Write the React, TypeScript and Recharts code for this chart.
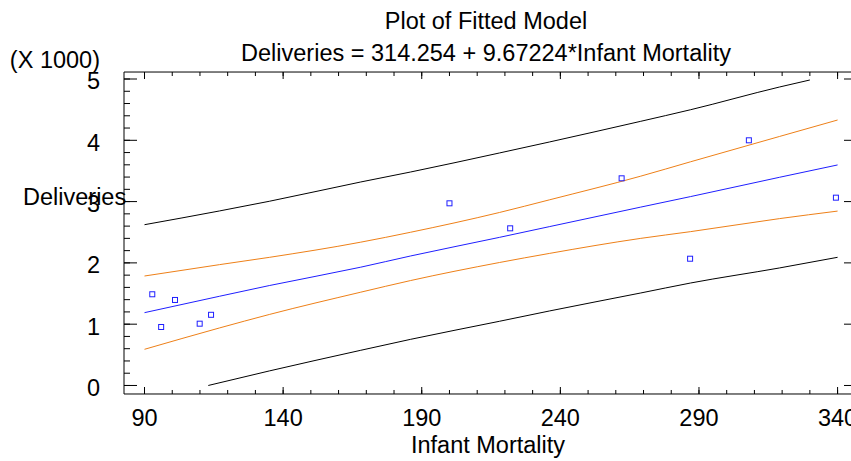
import React from 'react';
import { ComposedChart, Line, Scatter, XAxis, YAxis } from 'recharts';

// observed data (infant mortality vs deliveries)
const mortality = [92.8, 96, 101, 109.9, 114, 200, 221.9, 262.1, 286.8, 308, 339.4];
const deliveries = [1488, 954, 1395, 1008, 1153, 2972, 2564, 3380, 2068, 4000, 3064];

// fitted line and limits
const bandX = [90, 117, 135, 168, 186, 218, 236, 269, 287, 319, 340];
const fitted = [1188, 1455, 1630, 1930, 2113, 2416, 2591, 2910, 3082, 3396, 3598];
const upperConf = [1786, 1971, 2090, 2338, 2500, 2822, 3028, 3415, 3650, 4062, 4331];
const lowerConf = [590, 938, 1158, 1522, 1712, 2006, 2154, 2400, 2510, 2722, 2845];
const upperPredX = [90, 117, 135, 168, 186, 218, 236, 269, 287, 319, 330];
const upperPred = [2623, 2847, 3005, 3320, 3483, 3793, 3972, 4310, 4499, 4869, 4984];
const lowerPredX = [113, 135, 168, 186, 218, 236, 269, 287, 319, 340];
const lowerPred = [0, 237, 574, 753, 1047, 1215, 1509, 1672, 1917, 2091];

const xTicks = [90, 140, 190, 240, 290, 340];
const xMinorTicks = [90, 100, 110, 120, 130, 140, 150, 160, 170, 180, 190, 200, 210, 220, 230, 240, 250, 260, 270, 280, 290, 300, 310, 320, 330, 340];
const yTicks = [0, 1000, 2000, 3000, 4000, 5000];
const yMinorTicks = [0, 200, 400, 600, 800, 1000, 1200, 1400, 1600, 1800, 2000, 2200, 2400, 2600, 2800, 3000, 3200, 3400, 3600, 3800, 4000, 4200, 4400, 4600, 4800, 5000];

const FONT = '"Liberation Sans", Arial, sans-serif';
const ORANGE = '#ee8018';
const BLUE = '#1f1fff';
const THIN = 0.01; // near-zero axis size so the extra tick axes don't shift each other

const rows = (xs: number[], ys: number[]) => xs.map((x, i) => ({ x, y: ys[i] }));

const points = rows(mortality, deliveries);

const Square = (props: any) => {
  const { cx, cy } = props;
  return <rect x={cx - 2.5} y={cy - 2.5} width={5} height={5} fill="none" stroke={BLUE} strokeWidth={1} />;
};

const noLabel = () => <g />;

const yLabel = (p: any) => (
  <text x={p.x} y={p.y + 2} dy="0.355em" textAnchor="end" fontSize={23.5} fontFamily={FONT} fill="#000">
    {p.payload.value / 1000}
  </text>
);

const xDomain: [number, number] = [82.6, 345.2];
const yDomain: [number, number] = [-139, 5114];

const App: React.FC = () => {
  return (
    <div style={{ position: 'absolute', left: 0, top: 0, width: 851, height: 461, overflow: 'hidden', background: '#fff' }}>
      <ComposedChart width={856} height={461} margin={{ top: 72, right: 4, bottom: 37, left: 94 }}>
        {/* x axes: minor ticks + frame line first, then the labelled axis with inward major ticks */}
        <XAxis xAxisId="a" orientation="bottom" height={THIN} type="number" dataKey="x" domain={xDomain} allowDataOverflow ticks={xMinorTicks} interval={0}
          tickSize={-4} tick={noLabel} stroke="#000" tickLine={{ stroke: '#000' }} />
        <XAxis xAxisId="b" orientation="bottom" type="number" dataKey="x" domain={xDomain} allowDataOverflow ticks={xTicks} interval={0}
          height={30} axisLine={false} tickSize={-7} tickMargin={22} tickLine={{ stroke: '#000' }}
          tick={{ fontSize: 23.5, fill: '#000', fontFamily: FONT }} />
        <XAxis xAxisId="c" orientation="top" height={THIN} type="number" dataKey="x" domain={xDomain} allowDataOverflow ticks={xTicks} interval={0}
          tickSize={-7} tick={noLabel} stroke="#000" tickLine={{ stroke: '#000' }} />
        <XAxis xAxisId="d" orientation="top" height={THIN} type="number" dataKey="x" domain={xDomain} allowDataOverflow ticks={xMinorTicks} interval={0}
          tickSize={-4} tick={noLabel} axisLine={false} tickLine={{ stroke: '#000' }} />

        {/* y axes */}
        <YAxis yAxisId="y" type="number" domain={yDomain} allowDataOverflow ticks={yTicks} interval={0}
          width={30} tickLine={false} axisLine={false} tickSize={0} tickMargin={24} tick={yLabel} />
        <YAxis yAxisId="yl" orientation="left" mirror width={THIN} type="number" domain={yDomain} allowDataOverflow ticks={yTicks} interval={0}
          tickSize={13} tick={noLabel} stroke="#000" tickLine={{ stroke: '#000' }} />
        <YAxis yAxisId="ylm" orientation="left" mirror width={THIN} type="number" domain={yDomain} allowDataOverflow ticks={yMinorTicks} interval={0}
          tickSize={6} tick={noLabel} axisLine={false} tickLine={{ stroke: '#000' }} />
        <YAxis yAxisId="yr" orientation="right" mirror width={THIN} type="number" domain={yDomain} allowDataOverflow ticks={yTicks} interval={0}
          tickSize={8} tick={noLabel} stroke="#000" tickLine={{ stroke: '#000' }} />

        <Line xAxisId="b" yAxisId="y" data={rows(upperPredX, upperPred)} dataKey="y" type="monotone" stroke="#000" strokeWidth={1} dot={false} isAnimationActive={false} />
        <Line xAxisId="b" yAxisId="y" data={rows(lowerPredX, lowerPred)} dataKey="y" type="monotone" stroke="#000" strokeWidth={1} dot={false} isAnimationActive={false} />
        <Line xAxisId="b" yAxisId="y" data={rows(bandX, upperConf)} dataKey="y" type="monotone" stroke={ORANGE} strokeWidth={1} dot={false} isAnimationActive={false} />
        <Line xAxisId="b" yAxisId="y" data={rows(bandX, lowerConf)} dataKey="y" type="monotone" stroke={ORANGE} strokeWidth={1} dot={false} isAnimationActive={false} />
        <Line xAxisId="b" yAxisId="y" data={rows(bandX, fitted)} dataKey="y" type="monotone" stroke={BLUE} strokeWidth={1} dot={false} isAnimationActive={false} />
        <Scatter xAxisId="b" yAxisId="y" data={points} dataKey="y" shape={Square} isAnimationActive={false} />
      </ComposedChart>

      <svg width={851} height={461} style={{ position: 'absolute', left: 0, top: 0, pointerEvents: 'none' }}
        fontFamily={FONT} fontSize={23.5} fill="#000">
        <text x={486} y={29} textAnchor="middle">Plot of Fitted Model</text>
        <text x={486} y={61} textAnchor="middle">Deliveries = 314.254 + 9.67224*Infant Mortality</text>
        <text x={100} y={68} textAnchor="end">(X 1000)</text>
        <text x={23} y={205}>Deliveries</text>
        <text x={488} y={453} textAnchor="middle">Infant Mortality</text>
      </svg>
    </div>
  );
};

export default App;
